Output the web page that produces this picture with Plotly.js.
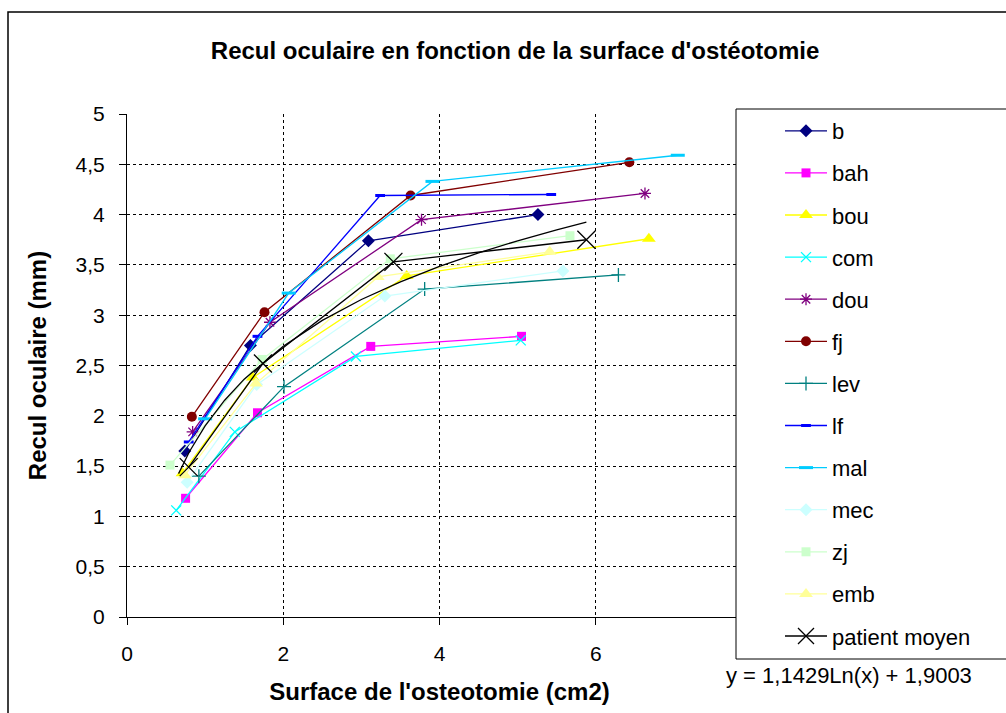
<!DOCTYPE html>
<html>
<head>
<meta charset="utf-8">
<script src="https://cdn.plot.ly/plotly-3.0.1.min.js"></script>
<style>
html,body{margin:0;padding:0;background:#fff;}
#chart{width:1006px;height:713px;}
</style>
</head>
<body>
<div id="chart"></div>
<script>
// ---- data ----
const names = ["b","bah","bou","com","dou","fj","lev","lf","mal","mec","zj","emb","patient moyen"];

const b_x = [0.74, 1.58, 3.09, 5.26];
const b_y = [1.65, 2.70, 3.74, 4.00];
const bah_x = [0.75, 1.67, 3.12, 5.05];
const bah_y = [1.18, 2.03, 2.69, 2.79];
const bou_x = [0.71, 1.61, 3.58, 6.68];
const bou_y = [1.43, 2.38, 3.39, 3.76];
const com_x = [0.63, 1.38, 2.93, 5.04];
const com_y = [1.06, 1.84, 2.59, 2.75];
const dou_x = [0.84, 1.83, 3.77, 6.63];
const dou_y = [1.84, 2.93, 3.95, 4.21];
const fj_x = [0.83, 1.76, 3.63, 6.43];
const fj_y = [1.99, 3.03, 4.19, 4.52];
const lev_x = [0.92, 2.01, 3.81, 6.29];
const lev_y = [1.40, 2.29, 3.26, 3.40];
const lf_x = [0.79, 1.67, 3.24, 5.43];
const lf_y = [1.74, 2.79, 4.19, 4.20];
const mal_x = [1.00, 2.07, 3.91, 7.05];
const mal_y = [1.97, 3.22, 4.33, 4.59];
const mec_x = [0.77, 1.66, 3.30, 5.58];
const mec_y = [1.34, 2.31, 3.19, 3.44];
const zj_x = [0.55, 1.73, 3.37, 5.67];
const zj_y = [1.51, 2.56, 3.56, 3.79];
const emb_x = [0.74, 1.65, 3.21, 5.41];
const emb_y = [1.41, 2.32, 3.38, 3.63];
const moyen_x = [0.79, 1.74, 3.41, 5.88];
const moyen_y = [1.49, 2.52, 3.53, 3.75];

// logarithmic trend line of "patient moyen" as drawn (y = 1,1429Ln(x) + 1,9003)
const trend_x = [0.66, 0.8, 1, 1.25, 1.5, 2, 2.5, 3, 3.5, 4, 4.5, 5, 5.5, 5.88];
const trend_y = [1.425, 1.645, 1.900, 2.155, 2.364, 2.692, 2.948, 3.156, 3.332, 3.485, 3.619, 3.740, 3.849, 3.925];
const trend_label = "y = 1,1429Ln(x) + 1,9003";

const x_ticks = [0, 2, 4, 6];
const y_ticks = [0, 0.5, 1, 1.5, 2, 2.5, 3, 3.5, 4, 4.5, 5];

// ---- styling ----
const FONT = "Liberation Sans, Arial, sans-serif";
const styles = [
  {c:"#000080", s:"diamond", sz:10},
  {c:"#FF00FF", s:"square", sz:9},
  {c:"#FFFF00", s:"triangle-up", sz:12},
  {c:"#00FFFF", s:"x-thin", sz:10, open:true},
  {c:"#800080", s:"asterisk", sz:10, open:true},
  {c:"#800000", s:"circle", sz:10},
  {c:"#008080", s:"cross-thin", sz:10, open:true},
  {c:"#0000FF", s:"line-ew", sz:7, open:true, lw:3},
  {c:"#00CCFF", s:"line-ew", sz:10, open:true, lw:3},
  {c:"#CCFFFF", s:"diamond", sz:10},
  {c:"#CCFFCC", s:"square", sz:9},
  {c:"#FFFF99", s:"triangle-up", sz:12},
  {c:"#000000", s:"x-thin", sz:18, open:true}
];
const xs = [b_x,bah_x,bou_x,com_x,dou_x,fj_x,lev_x,lf_x,mal_x,mec_x,zj_x,emb_x,moyen_x];
const ys = [b_y,bah_y,bou_y,com_y,dou_y,fj_y,lev_y,lf_y,mal_y,mec_y,zj_y,emb_y,moyen_y];

const traces = names.map((n,i)=>{
  const st = styles[i];
  const marker = {symbol: st.s, size: st.sz, color: st.c};
  if (st.open) marker.line = {color: st.c, width: st.lw || 1.3};
  return {
    type:"scatter", mode:"lines+markers", name:n, x:xs[i], y:ys[i],
    line:{color:st.c, width:1.3}, marker:marker, legendgroup:"g"+i
  };
});
traces.push({
  type:"scatter", mode:"lines", x:trend_x, y:trend_y, showlegend:false,
  line:{color:"#000000", width:1.3}, hoverinfo:"skip"
});

const L=127, R=752, T=114, B=617;
const pw = R-L, ph = B-T;
const px = v => (v-L)/pw;
const py = v => (B-v)/ph;

const layout = {
  width:1006, height:713,
  margin:{l:L, r:1006-R, t:T, b:713-B, autoexpand:false},
  paper_bgcolor:"#ffffff", plot_bgcolor:"#ffffff",
  separators:", ",
  font:{family:FONT, size:21, color:"#000"},
  showlegend:true,
  title:{text:"<b>Recul oculaire en fonction de la surface d'ostéotomie</b>",
    font:{family:FONT, size:24, color:"#000"}, xref:"container", x:0.512, xanchor:"center",
    yref:"container", y:1-51/713, yanchor:"middle"},
  xaxis:{range:[0,8], tickvals:x_ticks, ticks:"outside", ticklen:7, tickcolor:"#000",
    showline:true, linecolor:"#000", linewidth:1, zeroline:false,
    showgrid:true, gridcolor:"#000", gridwidth:1, griddash:"3px,3px",
    ticklabelstandoff:11, tickfont:{family:FONT, size:21},
    title:{text:"<b>Surface de l'osteotomie (cm2)</b>", font:{family:FONT, size:24}, standoff:18}},
  yaxis:{range:[0,5], tickvals:y_ticks, ticks:"outside", ticklen:7, tickcolor:"#000",
    showline:true, linecolor:"#000", linewidth:1, zeroline:false,
    showgrid:true, gridcolor:"#000", gridwidth:1, griddash:"3px,3px",
    ticklabelstandoff:10, tickfont:{family:FONT, size:21},
    title:{text:"<b>Recul oculaire (mm)</b>", font:{family:FONT, size:24}, standoff:22}},
  legend:{x:px(780), xanchor:"left", y:py(110), yanchor:"top",
    bgcolor:"rgba(0,0,0,0)", borderwidth:0, font:{family:FONT, size:22},
    tracegroupgap:10.5, itemwidth:42, traceorder:"grouped", maxheight:700},
  shapes:[
    {type:"rect", xref:"paper", yref:"paper", x0:px(8), x1:px(1012), y0:py(722), y1:py(12),
      line:{color:"#000", width:1.5}, fillcolor:"rgba(0,0,0,0)", layer:"below"},
    {type:"rect", xref:"paper", yref:"paper", x0:px(736), x1:px(1012), y0:py(659), y1:py(109),
      line:{color:"#000", width:1}, fillcolor:"#ffffff", layer:"above"}
  ],
  annotations:[
    {text:trend_label, xref:"paper", yref:"paper", x:px(724), xanchor:"left", y:py(675), yanchor:"middle",
      showarrow:false, font:{family:FONT, size:22, color:"#000"}}
  ]
};

Plotly.newPlot("chart", traces, layout, {displayModeBar:false, staticPlot:true});
</script>
</body>
</html>
